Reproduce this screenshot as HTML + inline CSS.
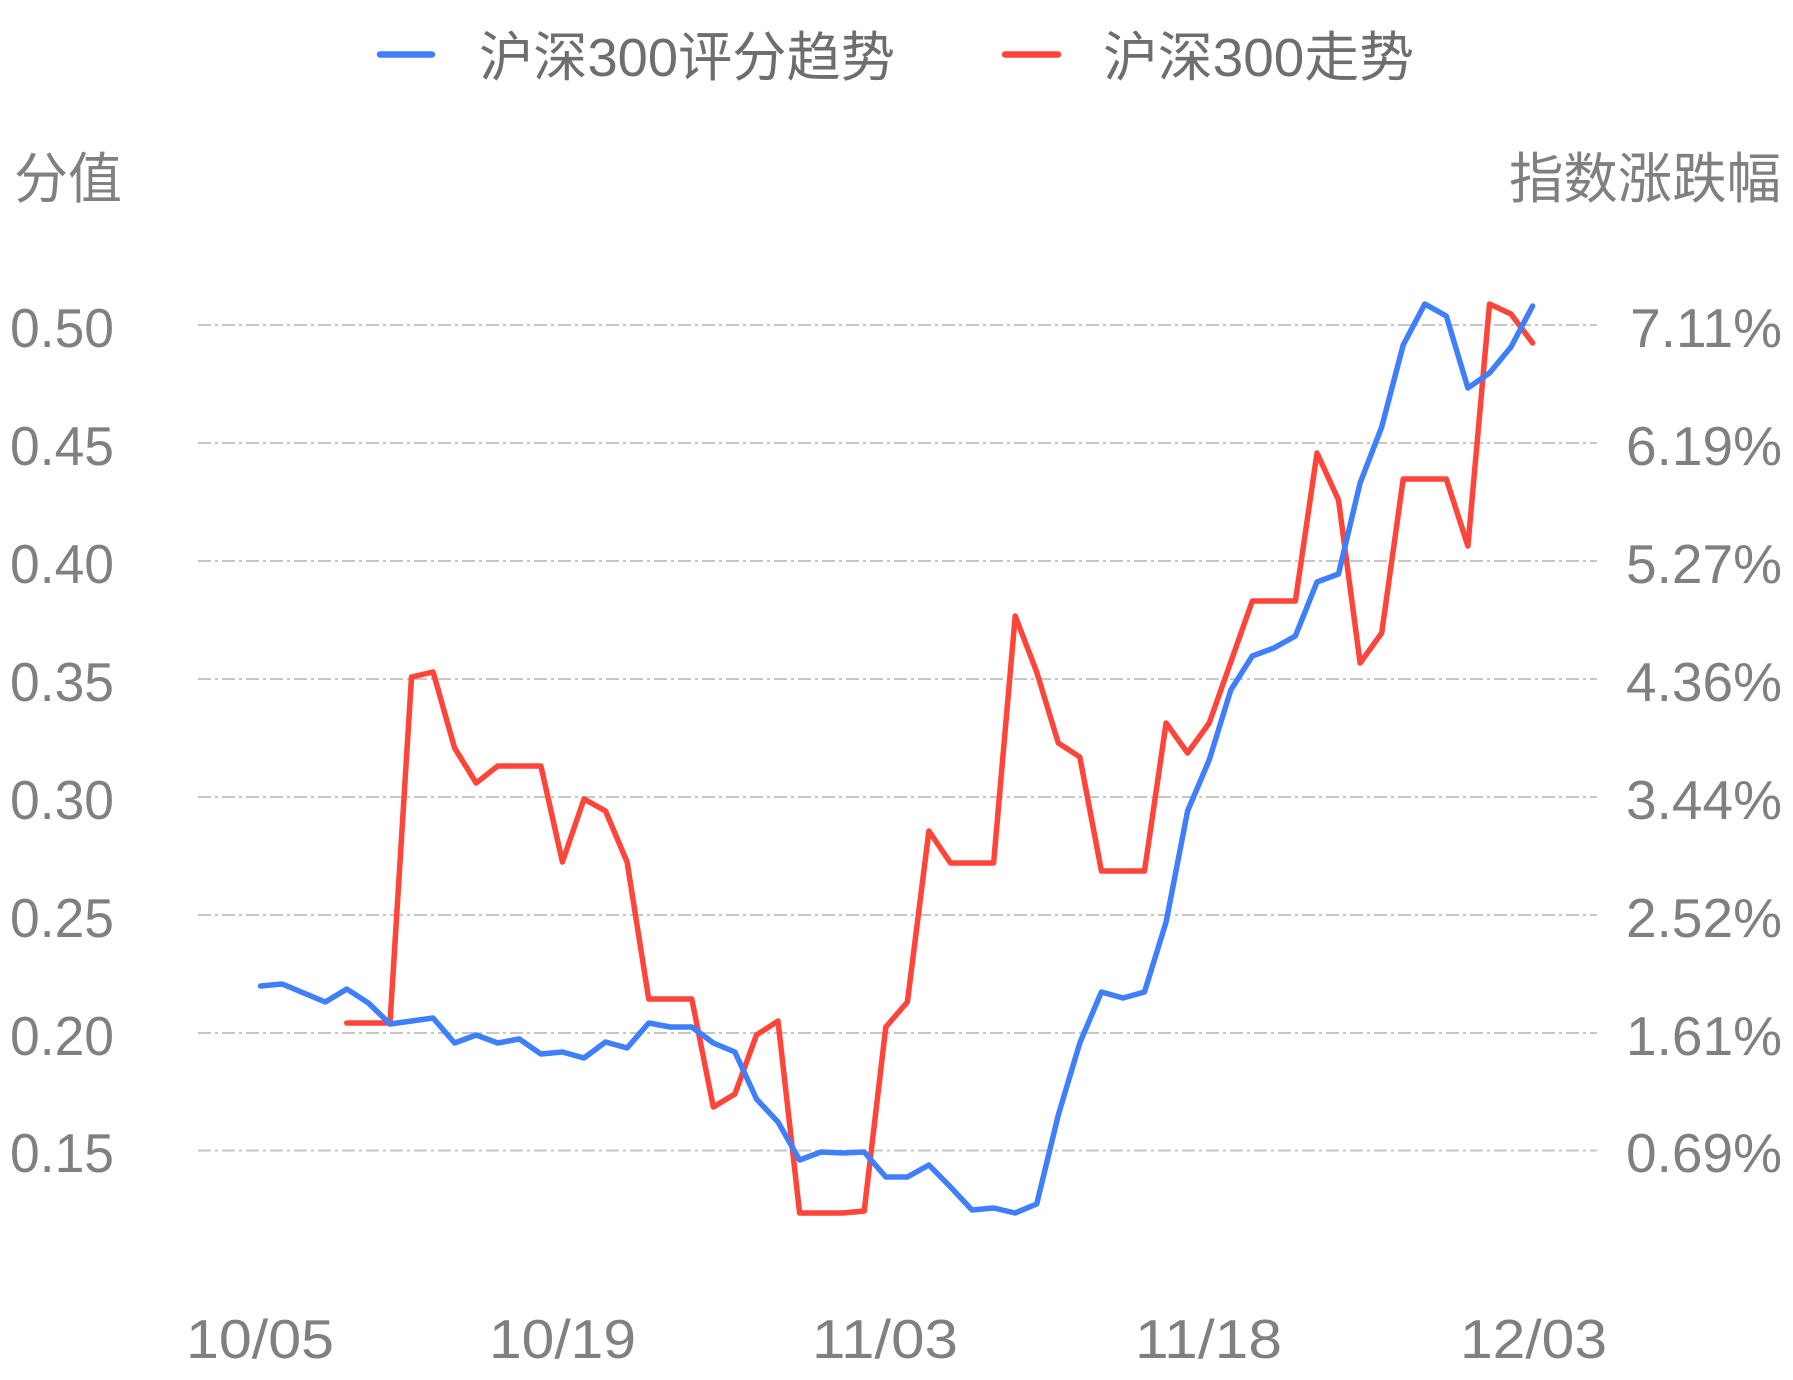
<!DOCTYPE html>
<html><head><meta charset="utf-8"><style>
html,body{margin:0;padding:0;background:#fff;}
svg{display:block;}
text{font-family:"Liberation Sans","Noto Sans CJK SC",sans-serif;}
</style></head><body>
<svg width="1793" height="1380" viewBox="0 0 1793 1380" xmlns="http://www.w3.org/2000/svg">
<rect width="1793" height="1380" fill="#fff"/>
<!-- legend -->
<line x1="380" y1="54.5" x2="432" y2="54.5" stroke="#3f7ffb" stroke-width="6.5" stroke-linecap="round"/>
<text x="479" y="76" font-size="54" fill="#6e6e6e" textLength="416" lengthAdjust="spacingAndGlyphs">沪深300评分趋势</text>
<line x1="1005" y1="54.5" x2="1058" y2="54.5" stroke="#ff453a" stroke-width="6.5" stroke-linecap="round"/>
<text x="1103" y="76" font-size="54" fill="#6e6e6e" textLength="311" lengthAdjust="spacingAndGlyphs">沪深300走势</text>
<!-- axis titles -->
<text x="14" y="198" font-size="55" fill="#808080" textLength="108" lengthAdjust="spacingAndGlyphs">分值</text>
<text x="1509" y="198" font-size="55" fill="#808080" textLength="272" lengthAdjust="spacingAndGlyphs">指数涨跌幅</text>
<!-- grid -->
<g stroke="#c6c6c6" stroke-width="2" stroke-dasharray="13 4 3 4">
<line x1="198" y1="325" x2="1597" y2="325"/>
<line x1="198" y1="443" x2="1597" y2="443"/>
<line x1="198" y1="561" x2="1597" y2="561"/>
<line x1="198" y1="679" x2="1597" y2="679"/>
<line x1="198" y1="797" x2="1597" y2="797"/>
<line x1="198" y1="915" x2="1597" y2="915"/>
<line x1="198" y1="1033" x2="1597" y2="1033"/>
<line x1="198" y1="1150.5" x2="1597" y2="1150.5"/>
</g>
<!-- left labels -->
<g font-size="55" fill="#808080">
<text x="10" y="347" textLength="104" lengthAdjust="spacingAndGlyphs">0.50</text>
<text x="10" y="465" textLength="104" lengthAdjust="spacingAndGlyphs">0.45</text>
<text x="10" y="583" textLength="104" lengthAdjust="spacingAndGlyphs">0.40</text>
<text x="10" y="701" textLength="104" lengthAdjust="spacingAndGlyphs">0.35</text>
<text x="10" y="819" textLength="104" lengthAdjust="spacingAndGlyphs">0.30</text>
<text x="10" y="937" textLength="104" lengthAdjust="spacingAndGlyphs">0.25</text>
<text x="10" y="1055" textLength="104" lengthAdjust="spacingAndGlyphs">0.20</text>
<text x="10" y="1172" textLength="104" lengthAdjust="spacingAndGlyphs">0.15</text>
</g>
<!-- right labels -->
<g font-size="55" fill="#808080" text-anchor="end">
<text x="1782" y="347">7.11%</text>
<text x="1782" y="465">6.19%</text>
<text x="1782" y="583">5.27%</text>
<text x="1782" y="701">4.36%</text>
<text x="1782" y="819">3.44%</text>
<text x="1782" y="937">2.52%</text>
<text x="1782" y="1055">1.61%</text>
<text x="1782" y="1172">0.69%</text>
</g>
<!-- x labels -->
<g font-size="55" fill="#808080">
<text x="186" y="1358" textLength="148" lengthAdjust="spacingAndGlyphs">10/05</text>
<text x="489" y="1358" textLength="147" lengthAdjust="spacingAndGlyphs">10/19</text>
<text x="812" y="1358" textLength="146" lengthAdjust="spacingAndGlyphs">11/03</text>
<text x="1135" y="1358" textLength="147" lengthAdjust="spacingAndGlyphs">11/18</text>
<text x="1460" y="1358" textLength="147" lengthAdjust="spacingAndGlyphs">12/03</text>
</g>
<!-- red series -->
<polyline fill="none" stroke="#ff453a" stroke-width="5.5" stroke-linejoin="round" stroke-linecap="round" points="
346.8,1023 368.4,1023 390.0,1023 411.5,677 433.1,672 454.6,748 476.2,783 497.7,766 519.3,766 540.9,766
562.4,862 584.0,799 605.5,811 627.1,862 648.7,999 670.2,999 691.8,999 713.3,1107 734.9,1094 756.5,1035
778.0,1021 799.6,1213 821.1,1213 842.7,1213 864.2,1211 885.8,1027 907.4,1002 928.9,831 950.5,863 972.0,863
993.6,863 1015.2,616 1036.7,672 1058.3,743 1079.8,757 1101.4,871 1123.0,871 1144.5,871 1166.1,723 1187.6,753
1209.2,723 1230.8,662 1252.3,601 1273.9,601 1295.4,601 1317.0,453 1338.5,500 1360.1,663 1381.7,633 1403.2,479
1424.8,479 1446.3,479 1467.9,546 1489.5,304 1511.0,314 1532.6,343"/>
<!-- blue series -->
<polyline fill="none" stroke="#3f7ffb" stroke-width="5.5" stroke-linejoin="round" stroke-linecap="round" points="
260.6,986 282.2,984 303.7,993 325.3,1002 346.8,989 368.4,1003 390.0,1024 411.5,1021 433.1,1018 454.6,1043
476.2,1035 497.7,1043 519.3,1039 540.9,1054 562.4,1052 584.0,1058 605.5,1042 627.1,1048 648.7,1023 670.2,1027
691.8,1027 713.3,1043 734.9,1052 756.5,1099 778.0,1122 799.6,1160 821.1,1152 842.7,1153 864.2,1152 885.8,1177
907.4,1177 928.9,1165 950.5,1187 972.0,1210 993.6,1208 1015.2,1213 1036.7,1204 1058.3,1115 1079.8,1043 1101.4,992
1123.0,998 1144.5,992 1166.1,922 1187.6,811 1209.2,760 1230.8,690 1252.3,656 1273.9,648 1295.4,636 1317.0,582
1338.5,574 1360.1,483 1381.7,427 1403.2,345 1424.8,304 1446.3,316 1467.9,388 1489.5,373 1511.0,347 1532.6,306"/>
</svg>
</body></html>
